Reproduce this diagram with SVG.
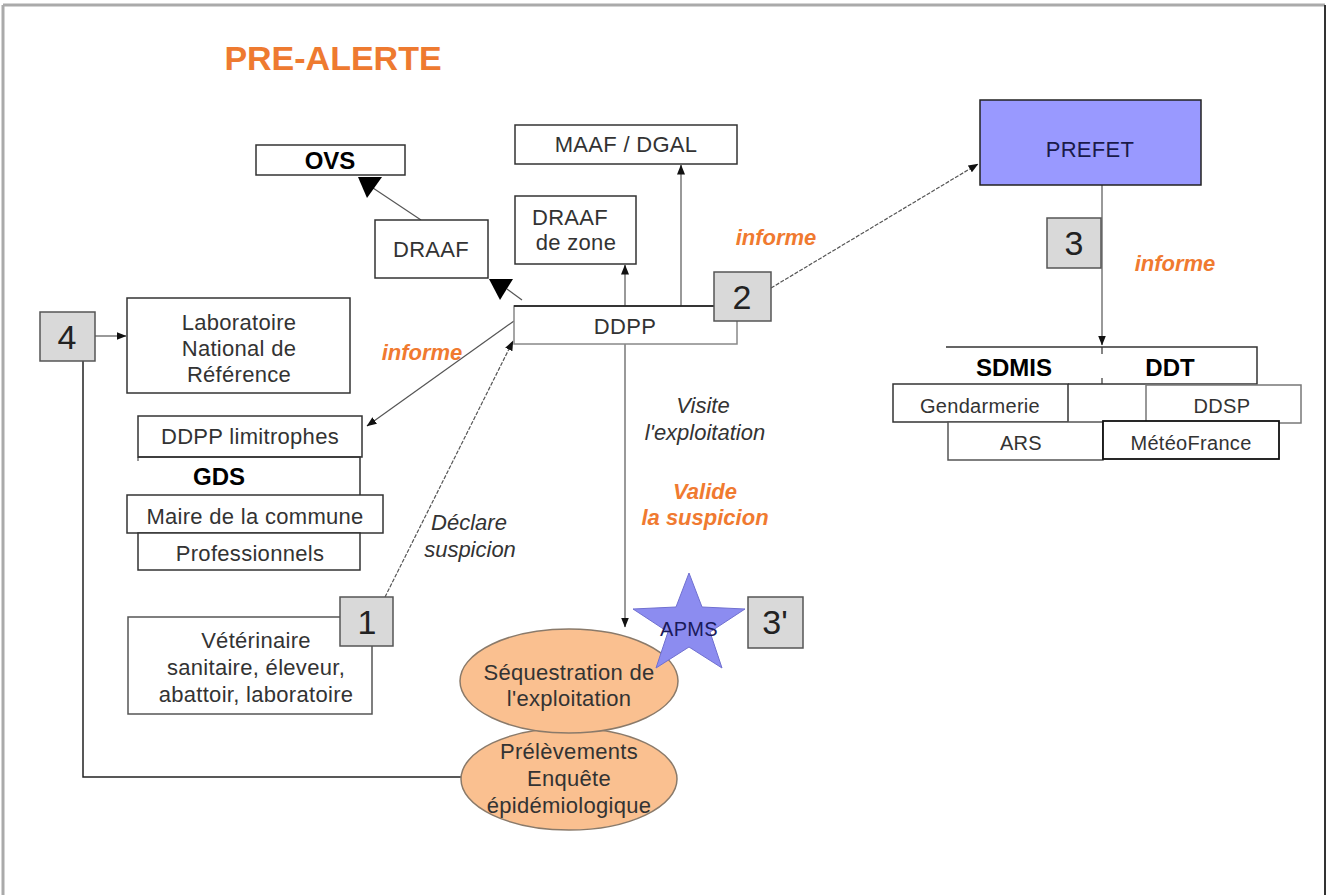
<svg xmlns="http://www.w3.org/2000/svg" width="1330" height="895" viewBox="0 0 1330 895">
<style>
.t{font-family:"Liberation Sans",Arial,sans-serif;font-size:22px;fill:#333;text-anchor:middle;letter-spacing:0.3px}
.b{font-family:"Liberation Sans",Arial,sans-serif;font-size:24px;font-weight:bold;fill:#000;text-anchor:middle}
.n{font-family:"Liberation Sans",Arial,sans-serif;font-size:34px;fill:#222;text-anchor:middle}
.o{font-family:"Liberation Sans",Arial,sans-serif;font-size:22px;font-weight:bold;font-style:italic;fill:#F07A30;text-anchor:middle}
.i{font-family:"Liberation Sans",Arial,sans-serif;font-size:22px;font-style:italic;fill:#333;text-anchor:middle}
.box{fill:#fff;stroke:#333;stroke-width:1.5}
.num{fill:#D9D9D9;stroke:#555;stroke-width:1.5}
.c{fill:none;stroke:#555;stroke-width:1.2}
.d{fill:none;stroke:#555;stroke-width:1.2;stroke-dasharray:4 1.5}
.ell{fill:#FAC090;stroke:#8A7A6A;stroke-width:1.5}
</style>
<defs>
<marker id="ah" markerWidth="10" markerHeight="8" refX="9.5" refY="4" orient="auto" markerUnits="userSpaceOnUse">
<path d="M0,0 L10,4 L0,8 z" fill="#111"/>
</marker>
</defs>
<rect x="0" y="0" width="1330" height="895" fill="#fff"/>
<g id="frame">
<line x1="3" y1="5" x2="1325" y2="5" stroke="#AAA" stroke-width="3"/>
<line x1="3" y1="5" x2="3" y2="895" stroke="#AAA" stroke-width="3"/>
<line x1="1325" y1="5" x2="1325" y2="895" stroke="#333" stroke-width="2"/>
</g>
<text id="title" x="333" y="70" style="font-family:'Liberation Sans',Arial,sans-serif;font-size:34px;font-weight:bold;fill:#EE7A30;text-anchor:middle">PRE-ALERTE</text>

<g id="connectors">
<line class="c" x1="421" y1="220" x2="373" y2="188" stroke="#222"/>
<polygon points="358,177 382,177 367,198" fill="#000"/>
<line class="c" x1="522" y1="300" x2="507" y2="289" stroke="#222"/>
<polygon points="489,279 513,279 500,300" fill="#000"/>
<line class="c" x1="625" y1="306" x2="625" y2="265" marker-end="url(#ah)"/>
<line class="c" x1="681" y1="306" x2="681" y2="165" marker-end="url(#ah)"/>
<line class="d" x1="771" y1="288" x2="978" y2="164" marker-end="url(#ah)"/>
<line class="c" x1="1102" y1="185" x2="1102" y2="345" marker-end="url(#ah)"/>
<line class="c" x1="514" y1="321" x2="367" y2="426" marker-end="url(#ah)"/>
<line class="d" x1="385" y1="597" x2="513" y2="341" marker-end="url(#ah)"/>
<line class="c" x1="625" y1="344" x2="625" y2="627" marker-end="url(#ah)"/>
<line class="c" x1="95" y1="336" x2="126" y2="336" marker-end="url(#ah)"/>
<polyline points="83,361 83,777 461,777" fill="none" stroke="#222" stroke-width="1.5"/>
</g>

<g id="ovs"><rect class="box" x="256" y="145" width="149" height="30"/><text class="b" x="330" y="169">OVS</text></g>
<g id="draaf"><rect class="box" x="375" y="220" width="113" height="58"/><text class="t" x="431" y="257">DRAAF</text></g>
<g id="maaf"><rect class="box" x="515" y="125" width="222" height="39"/><text class="t" x="626" y="152">MAAF / DGAL</text></g>
<g id="draaf-zone"><rect class="box" x="515" y="196" width="121" height="68"/><text class="t" x="570" y="225">DRAAF</text><text class="t" x="576" y="250">de zone</text></g>
<g id="ddpp">
<rect x="514" y="306" width="223" height="38" fill="#fff" stroke="#888" stroke-width="1.5"/>
<line x1="514" y1="306" x2="714" y2="306" stroke="#111" stroke-width="1.5"/>
<text class="t" x="625" y="334">DDPP</text>
</g>
<g id="n2"><rect class="num" x="714" y="272" width="57" height="49"/><text class="n" x="742" y="309">2</text></g>
<text class="o" x="776" y="245">informe</text>

<g id="prefet"><rect x="980" y="100" width="221" height="85" fill="#9999FF" stroke="#222" stroke-width="1.5"/><text class="t" x="1090" y="157" style="fill:#1a1a4a">PREFET</text></g>
<g id="n3"><rect class="num" x="1047" y="218" width="54" height="50"/><text class="n" x="1074" y="255">3</text></g>
<text class="o" x="1175" y="271">informe</text>

<g id="sdmis-ddt">
<path d="M946,347 H1257 V384 H1068" fill="none" stroke="#333" stroke-width="1.5"/>
<line x1="1102" y1="347" x2="1102" y2="354" stroke="#333" stroke-width="1.2"/>
<line x1="1102" y1="378" x2="1102" y2="384" stroke="#333" stroke-width="1.2"/>
<text class="b" x="1014" y="376">SDMIS</text>
<text class="b" x="1170" y="376">DDT</text>
</g>
<g id="gendarmerie"><rect class="box" x="893" y="384" width="175" height="38"/><text class="t" x="980" y="413" style="font-size:20px">Gendarmerie</text></g>
<g id="ddsp"><rect x="1146" y="385" width="155" height="38" fill="#fff" stroke="#777" stroke-width="1.5"/><text class="t" x="1222" y="413" style="font-size:20px">DDSP</text></g>
<g id="ars"><rect x="948" y="422" width="155" height="38" fill="#fff" stroke="#555" stroke-width="1.5"/><text class="t" x="1021" y="450" style="font-size:20px">ARS</text></g>
<g id="meteofrance"><rect x="1103" y="421" width="176" height="38" fill="#fff" stroke="#111" stroke-width="1.8"/><text class="t" x="1191" y="450" style="font-size:20px">MétéoFrance</text></g>

<g id="n4"><rect class="num" x="40" y="312" width="55" height="49"/><text class="n" x="67" y="349">4</text></g>
<g id="labo"><rect class="box" x="127" y="298" width="223" height="95"/>
<text class="t" x="239" y="330">Laboratoire</text><text class="t" x="239" y="356">National de</text><text class="t" x="239" y="382">Référence</text></g>
<text class="o" x="422" y="360">informe</text>

<g id="ddpp-limitrophes"><rect class="box" x="138" y="416" width="224" height="41"/><text class="t" x="250" y="444">DDPP limitrophes</text></g>
<g id="gds"><path d="M138,457 H360 V495" fill="none" stroke="#333" stroke-width="1.5"/><line x1="138" y1="457" x2="138" y2="461" stroke="#333"/><text class="b" x="219" y="485">GDS</text></g>
<g id="maire"><rect class="box" x="127" y="495" width="256" height="38"/><text class="t" x="255" y="524">Maire de la commune</text></g>
<g id="professionnels"><rect class="box" x="138" y="533" width="222" height="37"/><text class="t" x="250" y="561">Professionnels</text></g>

<text class="i" x="469" y="530">Déclare</text>
<text class="i" x="470" y="557">suspicion</text>

<g id="veterinaire"><rect x="128" y="617" width="244" height="97" fill="#fff" stroke="#555" stroke-width="1.5"/>
<text class="t" x="256" y="648">Vétérinaire</text><text class="t" x="256" y="675">sanitaire, éleveur,</text><text class="t" x="256" y="702">abattoir, laboratoire</text></g>
<g id="n1"><rect class="num" x="340" y="597" width="53" height="49"/><text class="n" x="367" y="634">1</text></g>

<text class="i" x="703" y="413">Visite</text>
<text class="i" x="705" y="440">l'exploitation</text>
<text class="o" x="705" y="499">Valide</text>
<text class="o" x="705" y="525">la suspicion</text>

<g id="prelevements"><ellipse class="ell" cx="569" cy="779" rx="108" ry="51"/>
<text class="t" x="569" y="759">Prélèvements</text><text class="t" x="569" y="786">Enquête</text><text class="t" x="569" y="813">épidémiologique</text></g>
<g id="sequestration"><ellipse class="ell" cx="569" cy="681" rx="109" ry="52"/>
<text class="t" x="569" y="680">Séquestration de</text><text class="t" x="569" y="706">l'exploitation</text></g>
<g id="apms"><polygon points="689,573 702,607 745,609 710,632 722,668 689,647 656,668 668,632 633,609 676,607" fill="#8C8CF0" stroke="#7070D0" stroke-width="1"/>
<text class="t" x="689" y="636" style="font-size:20px;fill:#1a1a5a">APMS</text></g>
<g id="n3p"><rect class="num" x="748" y="597" width="55" height="51"/><text class="n" x="775" y="634">3'</text></g>
</svg>
